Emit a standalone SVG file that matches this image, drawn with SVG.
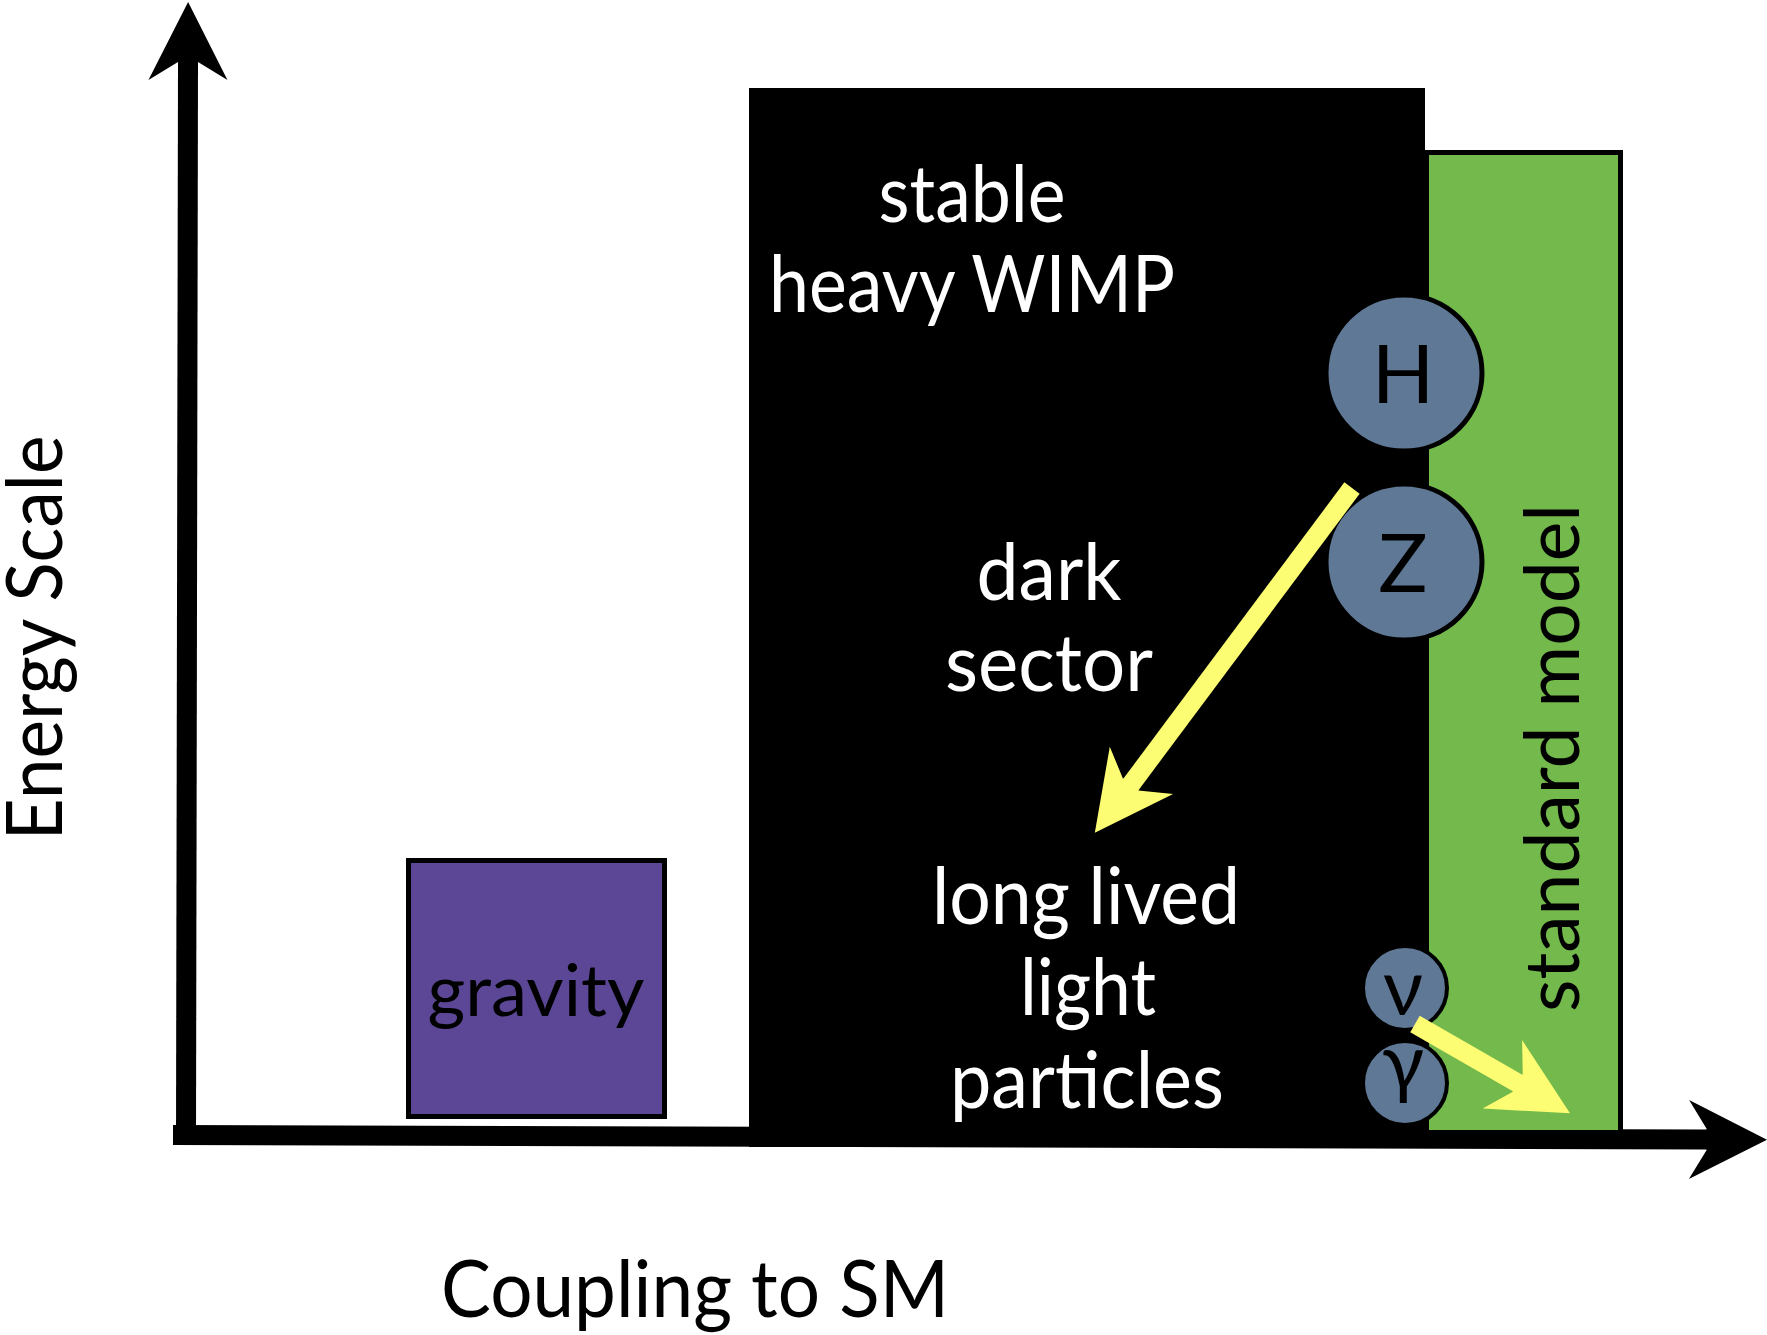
<svg xmlns="http://www.w3.org/2000/svg" width="1767" height="1335" viewBox="0 0 1767 1335">
<style>
.t{font-family:Lato,"Open Sans","Liberation Sans",sans-serif;text-anchor:middle}
.w{fill:#ffffff;font-size:80px}
.k{fill:#000000}
.ax{stroke:#000;stroke-width:20;fill:none}
.ya{stroke:#fdfd74;stroke-width:19;fill:none}
.pc{fill:#5f7895;stroke:#000}
</style>
<defs>
<marker id="hb" markerUnits="userSpaceOnUse" markerWidth="120" markerHeight="100" viewBox="-30 -50 120 100" refX="0" refY="0" orient="auto" overflow="visible">
<path d="M-1,-10 L0,-10 L-18,-39.5 L60,0 L-18,39.5 L0,10 L-1,10 Z" fill="#000"/>
</marker>
<marker id="hy" markerUnits="userSpaceOnUse" markerWidth="120" markerHeight="100" viewBox="-30 -50 120 100" refX="0" refY="0" orient="auto" overflow="visible">
<path d="M-1,-9.5 L0,-9.5 L-18,-39.5 L60,0 L-18,39.5 L0,9.5 L-1,9.5 Z" fill="#fdfd74"/>
</marker>
</defs>
<rect width="1767" height="1335" fill="#fff"/>
<g id="axes">
<line class="ax" x1="186" y1="1140" x2="188" y2="62" marker-end="url(#hb)"/>
<line class="ax" x1="173" y1="1135" x2="1707" y2="1139.5" marker-end="url(#hb)"/>
</g>
<g id="dark-sector">
<rect x="749" y="88" width="676" height="1059" fill="#000"/>
<text class="t w" x="972" y="222" textLength="187" lengthAdjust="spacingAndGlyphs">stable</text>
<text class="t w" x="972" y="312" textLength="406" lengthAdjust="spacingAndGlyphs">heavy WIMP</text>
<text class="t w" x="1049" y="600" textLength="145" lengthAdjust="spacingAndGlyphs">dark</text>
<text class="t w" x="1049" y="691" textLength="208" lengthAdjust="spacingAndGlyphs">sector</text>
<text class="t w" x="1086" y="924" textLength="308" lengthAdjust="spacingAndGlyphs">long lived</text>
<text class="t w" x="1088" y="1015" textLength="136" lengthAdjust="spacingAndGlyphs">light</text>
<text class="t w" x="1087" y="1108" textLength="274" lengthAdjust="spacingAndGlyphs">particles</text>
</g>
<g id="standard-model">
<rect x="1426.5" y="152.5" width="194" height="980" fill="#74b94b" stroke="#000" stroke-width="5"/>
<text class="t k" transform="translate(1579,758) rotate(-90)" x="0" y="0" font-size="76" textLength="508" lengthAdjust="spacingAndGlyphs">standard model</text>
</g>
<g id="gravity">
<rect x="408.5" y="860.5" width="256" height="256" fill="#5b4795" stroke="#000" stroke-width="5"/>
<text class="t k" x="536" y="1016" font-size="72" textLength="217" lengthAdjust="spacingAndGlyphs">gravity</text>
</g>
<g id="H">
<circle class="pc" cx="1404" cy="373" r="78" stroke-width="5"/>
<text class="t k" x="1403" y="403" font-size="82">H</text>
</g>
<g id="Z">
<circle class="pc" cx="1404" cy="562" r="78" stroke-width="5"/>
<text class="t k" x="1403" y="592" font-size="82">Z</text>
</g>
<g id="nu">
<circle class="pc" cx="1405" cy="988" r="42" stroke-width="4"/>
<text class="t k" x="1403" y="1015" font-size="78">ν</text>
</g>
<g id="gamma">
<circle class="pc" cx="1405" cy="1083" r="42" stroke-width="4"/>
<text class="t k" x="1403" y="1090" font-size="78">γ</text>
</g>
<g id="connectors">
<line class="ya" x1="1352" y1="488" x2="1130.7" y2="784.7" marker-end="url(#hy)"/>
<line class="ya" x1="1415" y1="1024" x2="1518" y2="1083.3" marker-end="url(#hy)"/>
</g>
<g id="labels">
<text class="t k" transform="translate(62,638) rotate(-90)" x="0" y="0" font-size="78" textLength="405" lengthAdjust="spacingAndGlyphs">Energy Scale</text>
<text class="t k" x="695" y="1317" font-size="79" textLength="508" lengthAdjust="spacingAndGlyphs">Coupling to SM</text>
</g>
</svg>
